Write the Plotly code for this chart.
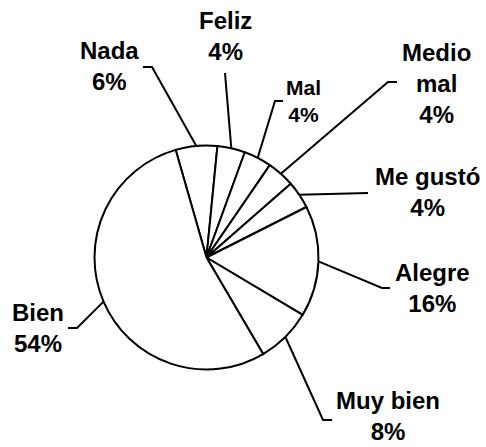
import math
import plotly.graph_objects as go

# ---- data ----
labels = ["Nada", "Feliz", "Mal", "Medio mal", "Me gustó", "Alegre", "Muy bien", "Bien"]
values = [6, 4, 4, 4, 4, 16, 8, 54]
label_text = ["Nada", "Feliz", "Mal", "Medio<br>mal", "Me gustó", "Alegre", "Muy bien", "Bien"]

# ---- layout / style (pixel space) ----
W, H = 486, 447
CX, CY, R = 206.5, 257.5, 112.0
ROTATION = -16.0
FONT = "Liberation Sans, Arial, sans-serif"

# label centre, leader elbow and leader end (pixels), font size
label_layout = {
    "Nada":      dict(pos=(109, 66),   elbow=(152, 67),   end=(143, 67),   size=24),
    "Feliz":     dict(pos=(225.5, 36), elbow=(225, 73),   end=(225, 73),   size=24),
    "Mal":       dict(pos=(303.5, 101), elbow=(275, 101), end=(283, 101),  size=21),
    "Medio mal": dict(pos=(436.7, 83), elbow=(388, 82),   end=(397, 82),   size=24),
    "Me gustó":  dict(pos=(427, 192),  elbow=(368, 193),  end=(368, 193),  size=24),
    "Alegre":    dict(pos=(432.5, 288), elbow=(382, 288), end=(390, 288),  size=24),
    "Muy bien":  dict(pos=(388, 416),  elbow=(323, 420),  end=(332, 420),  size=24),
    "Bien":      dict(pos=(37.5, 328), elbow=(77, 328),   end=(68, 328),   size=24),
}

def px(x):
    return x / W

def py(y):
    return 1 - y / H

fig = go.Figure()
fig.add_trace(go.Pie(
    labels=labels,
    values=values,
    sort=False,
    direction="clockwise",
    rotation=ROTATION,
    textinfo="none",
    hoverinfo="label+percent",
    marker=dict(colors=["white"] * len(values), line=dict(color="black", width=2)),
    domain=dict(x=[px(CX - R), px(CX + R)], y=[py(CY + R), py(CY - R)]),
    showlegend=False,
))

total = sum(values)
cum = 0.0
annotations = []
shapes = []
for lab, txt, v in zip(labels, label_text, values):
    mid = ROTATION + (cum + v / 2) / total * 360.0
    cum += v
    a = math.radians(mid)
    sx, sy = CX + R * math.sin(a), CY - R * math.cos(a)
    L = label_layout[lab]
    ex, ey = L["elbow"]
    tx, ty = L["end"]
    path = f"M {px(sx)},{py(sy)} L {px(ex)},{py(ey)} L {px(tx)},{py(ty)}"
    shapes.append(dict(type="path", xref="paper", yref="paper", path=path,
                       line=dict(color="black", width=2)))
    pct = round(v / total * 100)
    annotations.append(dict(
        x=px(L["pos"][0]), y=py(L["pos"][1]), xref="paper", yref="paper",
        text=f"{txt}<br>{pct}%", showarrow=False, xanchor="center", yanchor="middle",
        align="center", borderpad=0,
        font=dict(family=FONT, size=L["size"], color="black", weight="bold"),
    ))

fig.update_layout(
    width=W, height=H,
    margin=dict(l=0, r=0, t=0, b=0),
    paper_bgcolor="white",
    plot_bgcolor="white",
    shapes=shapes,
    annotations=annotations,
)

fig.write_html("out.html", config={"displayModeBar": False},
               post_script="document.body.style.margin='0';")
